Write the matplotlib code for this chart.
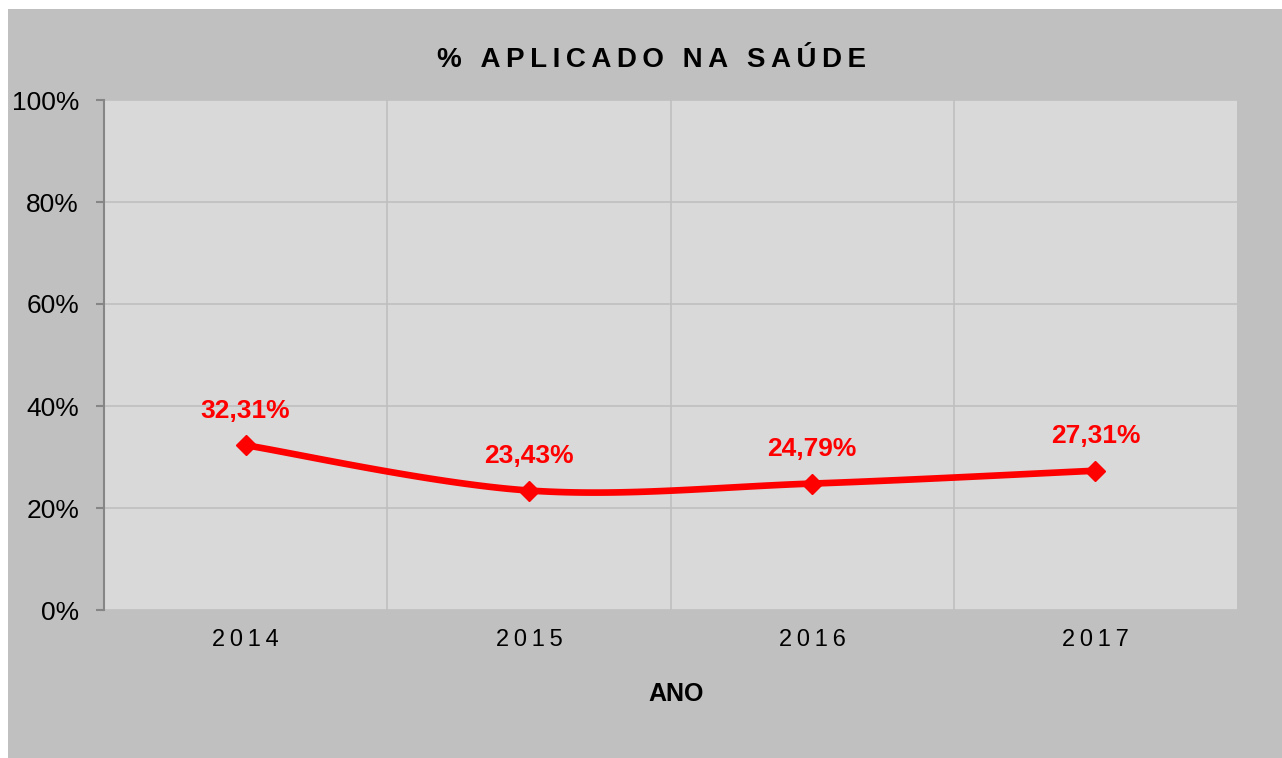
import numpy as np
import matplotlib
matplotlib.use("Agg")
import matplotlib.pyplot as plt
from matplotlib.patches import Rectangle

years = ["2014", "2015", "2016", "2017"]
values = [32.31, 23.43, 24.79, 27.31]
labels = ["32,31%", "23,43%", "24,79%", "27,31%"]
yticks = [0, 20, 40, 60, 80, 100]

plt.rcParams['font.family'] = ['Liberation Sans', 'DejaVu Sans']


def spaced(text, sep='\u2009'):
    return sep.join(text)


def smooth(x, y, steps=40):
    # excel-style smoothed line: bezier segments with 1/6 tangents
    x = np.asarray(x, float)
    y = np.asarray(y, float)
    n = len(x)
    xs, ys = [], []
    t = np.linspace(0, 1, steps)
    for i in range(n - 1):
        p0 = np.array([x[i], y[i]])
        p3 = np.array([x[i + 1], y[i + 1]])
        prev = np.array([x[i - 1], y[i - 1]]) if i > 0 else p0
        nxt = np.array([x[i + 2], y[i + 2]]) if i + 2 < n else p3
        p1 = p0 + (p3 - prev) / 6
        p2 = p3 - (nxt - p0) / 6
        pts = ((1 - t) ** 3)[:, None] * p0 + (3 * (1 - t) ** 2 * t)[:, None] * p1 \
            + (3 * (1 - t) * t ** 2)[:, None] * p2 + (t ** 3)[:, None] * p3
        xs.append(pts[:, 0])
        ys.append(pts[:, 1])
    return np.concatenate(xs), np.concatenate(ys)


fig = plt.figure(figsize=(12.82, 7.58), dpi=100)
fig.patch.set_facecolor('white')
fig.patches.append(Rectangle((8 / 1282, 0), 1 - 8 / 1282, 749 / 758,
                             transform=fig.transFigure, facecolor='#c0c0c0',
                             edgecolor='none', zorder=-10))

ax = fig.add_axes([104 / 1282, 148 / 758, 1133 / 1282, 510 / 758])
ax.set_facecolor('#d9d9d9')

x = np.arange(len(years))
sx, sy = smooth(x, values)
ax.plot(sx, sy, color='#ff0000', lw=4.8, solid_capstyle='round', zorder=3)
ax.plot(x, values, linestyle='none', marker='D', markersize=10,
        color='#ff0000', zorder=4)

for xi, v, lab in zip(x, values, labels):
    ax.annotate(lab, (xi, v), xytext=(0, 16), textcoords='offset points',
                ha='center', va='bottom', color='#ff0000', fontsize=19,
                fontweight='bold')

ax.set_xlim(-0.5, len(years) - 0.5)
ax.set_ylim(0, 100)
ax.set_yticks(yticks)
ax.set_yticklabels([f"{v}%" for v in yticks], fontsize=19)
ax.set_xticks(x)
ax.set_xticklabels([spaced(y) for y in years], fontsize=17)
ax.set_xticks(np.arange(0.5, len(years) - 1, 1), minor=True)

ax.grid(axis='y', which='major', color='#bfbfbf', lw=1.2)
ax.grid(axis='x', which='minor', color='#bfbfbf', lw=1.2)
ax.set_axisbelow(True)

for s in ['top', 'right', 'bottom']:
    ax.spines[s].set_visible(False)
ax.spines['left'].set_color('#868686')
ax.spines['left'].set_linewidth(1.5)
ax.tick_params(axis='y', length=6, width=1.5, color='#868686', pad=12)
ax.tick_params(axis='x', which='both', length=0, pad=14)

fig.text(651 / 1282, 1 - 60 / 758, spaced("% APLICADO NA SAÚDE", '\u2009'),
         ha='center', va='center', fontsize=20, fontweight='bold')
fig.text(676 / 1282, 1 - 694 / 758, "ANO", ha='center', va='center',
         fontsize=18, fontweight='bold')

fig.savefig('out.png', dpi=100, facecolor=fig.get_facecolor())
